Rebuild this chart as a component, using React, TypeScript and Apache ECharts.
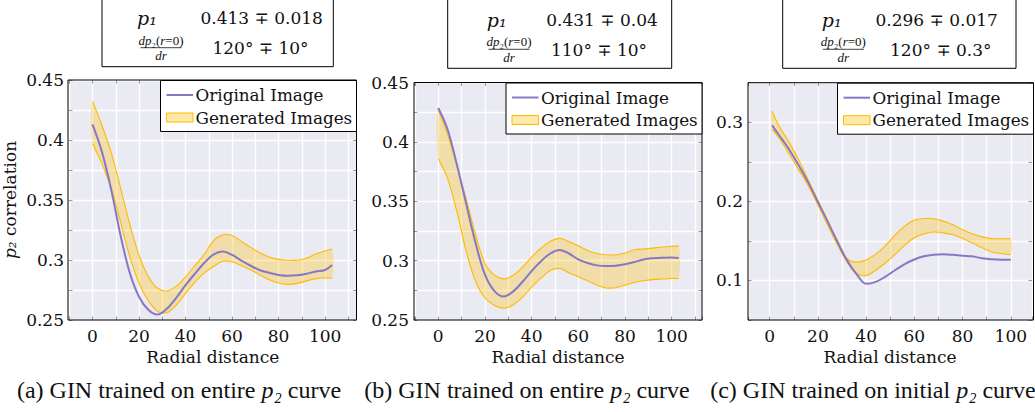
import React, { useEffect, useRef } from "react";
import * as echarts from "echarts";

// ---------------- data ----------------
const radiusA = [0, 4, 8, 12, 16, 20, 24, 28, 32, 36, 40, 44, 48, 52, 56, 60, 64, 68, 72, 76, 80, 84, 88, 92, 96, 100, 103];
const originalA = [0.413, 0.3905, 0.359, 0.321, 0.2895, 0.2694, 0.2585, 0.2545, 0.2595, 0.2685, 0.279, 0.2885, 0.2975, 0.3045, 0.307, 0.3042, 0.2995, 0.2952, 0.2915, 0.2893, 0.2875, 0.2868, 0.2872, 0.2885, 0.2905, 0.2917, 0.2958];
const upperA = [0.432, 0.4125, 0.3897, 0.3605, 0.33, 0.304, 0.2863, 0.2765, 0.2742, 0.278, 0.286, 0.2953, 0.3046, 0.316, 0.321, 0.3205, 0.3155, 0.3105, 0.306, 0.3025, 0.3005, 0.2998, 0.2998, 0.3015, 0.305, 0.3075, 0.309];
const lowerA = [0.397, 0.3805, 0.36, 0.332, 0.303, 0.2806, 0.2661, 0.2572, 0.2562, 0.2625, 0.2722, 0.2813, 0.289, 0.2946, 0.299, 0.2985, 0.2953, 0.2918, 0.2875, 0.2835, 0.2808, 0.2797, 0.2805, 0.2826, 0.2845, 0.285, 0.285];

const radiusB = [0, 4, 8, 12, 16, 20, 24, 28, 32, 36, 40, 44, 48, 52, 56, 60, 64, 68, 72, 76, 80, 84, 88, 92, 96, 100, 103];
const originalB = [0.4285, 0.4104, 0.3807, 0.3474, 0.3146, 0.2882, 0.2746, 0.2698, 0.2739, 0.282, 0.2912, 0.2995, 0.306, 0.309, 0.306, 0.301, 0.298, 0.296, 0.2955, 0.2957, 0.297, 0.2988, 0.301, 0.302, 0.3025, 0.3027, 0.3022];
const upperB = [0.4275, 0.4062, 0.3796, 0.3518, 0.3218, 0.2976, 0.288, 0.2846, 0.2875, 0.2942, 0.303, 0.3104, 0.3163, 0.3187, 0.316, 0.3125, 0.3085, 0.306, 0.305, 0.3048, 0.3065, 0.3092, 0.3098, 0.3105, 0.3115, 0.312, 0.3122];
const lowerB = [0.386, 0.369, 0.341, 0.3074, 0.2824, 0.2685, 0.2624, 0.2599, 0.2626, 0.269, 0.2777, 0.2852, 0.2917, 0.2934, 0.2897, 0.2865, 0.283, 0.2794, 0.277, 0.2772, 0.2793, 0.2816, 0.2831, 0.284, 0.2845, 0.2849, 0.285];

const radiusC = [1, 4, 8, 12, 16, 20, 24, 28, 32, 36, 40, 44, 48, 52, 56, 60, 64, 68, 72, 76, 80, 84, 88, 92, 96, 100];
const originalC = [0.296, 0.2832, 0.2657, 0.2457, 0.2237, 0.1992, 0.1747, 0.1493, 0.1257, 0.108, 0.0958, 0.0982, 0.1048, 0.1129, 0.1207, 0.1265, 0.1305, 0.1325, 0.1331, 0.1324, 0.1313, 0.1305, 0.128, 0.1267, 0.1262, 0.1262];
const upperC = [0.314, 0.2945, 0.2749, 0.2525, 0.227, 0.201, 0.176, 0.151, 0.128, 0.1232, 0.1259, 0.1333, 0.144, 0.1575, 0.1686, 0.1763, 0.1784, 0.178, 0.175, 0.1703, 0.1642, 0.159, 0.1551, 0.1529, 0.1527, 0.1527];
const lowerC = [0.291, 0.2795, 0.2601, 0.2401, 0.2196, 0.1955, 0.17, 0.1455, 0.1236, 0.1087, 0.1063, 0.113, 0.122, 0.1329, 0.1446, 0.1539, 0.1589, 0.1612, 0.1602, 0.1577, 0.1531, 0.1475, 0.1415, 0.136, 0.134, 0.1325];

const xTickLabels = [0, 20, 40, 60, 80, 100];
const yTickLabelsAB = [0.25, 0.3, 0.35, 0.4, 0.45];
const yTickLabelsC = [0.1, 0.2, 0.3];

const legendLabels = ["Original Image", "Generated Images"];
const xAxisTitle = "Radial distance";
const yAxisTitle = "{i|p₂} correlation";
const p1Values = ["0.413 ∓ 0.018", "0.431 ∓ 0.04", "0.296 ∓ 0.017"];
const slopeValues = ["120° ∓ 10°", "110° ∓ 10°", "120° ∓ 0.3°"];
const captions = [
  "(a) GIN trained on entire {i|p₂} curve",
  "(b) GIN trained on entire {i|p₂} curve",
  "(c) GIN trained on initial {i|p₂} curve",
];

// ---------------- style / layout ----------------
const PURPLE = "#8678c6";
const ORANGE = "#ffba00";
const BAND = "rgba(255, 200, 40, 0.36)";
const BAND_LEGEND = "rgba(255, 200, 40, 0.4)";
const PLOT_BG = "#eaeaf2";
const TEXT = "#111111";
const TICK = "#9a9a9a";
const SERIF = "'DejaVu Serif', serif";
const TIMES = "'Liberation Serif', 'Times New Roman', serif";
const SMOOTH = 0.35;

const layout = [
  { left: 68, top: 80, right: 356.5, bottom: 320, xMin: -10.1, xMax: 113.5, yMin: 0.25, yMax: 0.45, yStep: 0.025 },
  { left: 414, top: 82.5, right: 702, bottom: 320, xMin: -10.4, xMax: 113, yMin: 0.25, yMax: 0.45, yStep: 0.025 },
  { left: 748, top: 82.7, right: 1033.5, bottom: 320, xMin: -9, xMax: 108.8, yMin: 0.05, yMax: 0.35, yStep: 0.05 },
];

const tableLayout = [
  { x: 102, w: 231.3, h: 68.7, pX: 147, vX: 261.7, fX: 161, v2X: 260.5, r1: 18.3, num: 40, bar: 47.7, den: 55.6, r2: 48.3 },
  { x: 447.7, w: 224, h: 70.3, pX: 496.7, vX: 602, fX: 509, v2X: 599, r1: 20, num: 41.7, bar: 49.3, den: 57.3, r2: 50 },
  { x: 782.7, w: 233.3, h: 70.3, pX: 831.7, vX: 936.7, fX: 843.3, v2X: 940.8, r1: 20, num: 41.7, bar: 49.3, den: 57.3, r2: 50 },
];

const captionCenters = [179, 527, 873];

const panels = [
  { radius: radiusA, original: originalA, upper: upperA, lower: lowerA, yTicks: yTickLabelsAB },
  { radius: radiusB, original: originalB, upper: upperB, lower: lowerB, yTicks: yTickLabelsAB },
  { radius: radiusC, original: originalC, upper: upperC, lower: lowerC, yTicks: yTickLabelsC },
];

const pickLabel = (list: number[]) => (v: number) => {
  const hit = list.find((t) => Math.abs(t - v) < 1e-6);
  return hit === undefined ? "" : String(hit);
};

function buildOption(): any {
  const grid = layout.map((l) => ({
    left: l.left,
    top: l.top,
    width: l.right - l.left,
    height: l.bottom - l.top,
    show: false,
    containLabel: false,
  }));

  const tickStyle = { show: true, inside: true, length: 3.5, lineStyle: { color: TICK, width: 1 } };
  const gridLine = { show: true, lineStyle: { color: "#ffffff", width: 1.3, opacity: 1 } };
  const hiddenLine = { show: false, onZero: false };

  const xAxisBottom = layout.map((l, i) => ({
    type: "value",
    gridIndex: i,
    position: "bottom",
    min: l.xMin,
    max: l.xMax,
    splitNumber: 12,
    minInterval: 10,
    maxInterval: 10,
    axisLine: hiddenLine,
    axisTick: tickStyle,
    axisLabel: {
      margin: 7,
      fontFamily: SERIF,
      fontSize: 17,
      color: TEXT,
      formatter: pickLabel(xTickLabels),
    },
    splitLine: gridLine,
    name: xAxisTitle,
    nameLocation: "middle",
    nameGap: 27,
    nameTextStyle: { fontFamily: SERIF, fontSize: 17, color: TEXT },
  }));

  const xAxisTop = layout.map((l, i) => ({
    type: "value",
    gridIndex: i,
    position: "top",
    min: l.xMin,
    max: l.xMax,
    splitNumber: 12,
    minInterval: 10,
    maxInterval: 10,
    axisLine: hiddenLine,
    axisTick: tickStyle,
    axisLabel: { show: false },
    splitLine: { show: false },
  }));

  const yAxisLeft = layout.map((l, i) => ({
    type: "value",
    gridIndex: i,
    position: "left",
    min: l.yMin,
    max: l.yMax,
    interval: l.yStep,
    axisLine: hiddenLine,
    axisTick: tickStyle,
    axisLabel: {
      margin: 5,
      fontFamily: SERIF,
      fontSize: 17,
      color: TEXT,
      formatter: pickLabel(panels[i].yTicks),
    },
    splitLine: gridLine,
    ...(i === 0
      ? {
          name: yAxisTitle,
          nameLocation: "middle",
          nameGap: 51,
          nameTextStyle: {
            fontFamily: SERIF,
            fontSize: 17,
            color: TEXT,
            rich: { i: { fontFamily: SERIF, fontSize: 17, fontStyle: "italic", color: TEXT } },
          },
        }
      : {}),
  }));

  const yAxisRight = layout.map((l, i) => ({
    type: "value",
    gridIndex: i,
    position: "right",
    min: l.yMin,
    max: l.yMax,
    interval: l.yStep,
    axisLine: hiddenLine,
    axisTick: tickStyle,
    axisLabel: { show: false },
    splitLine: { show: false },
  }));

  const series: any[] = [];
  panels.forEach((p, i) => {
    series.push({
      type: "custom",
      name: legendLabels[1],
      xAxisIndex: i,
      yAxisIndex: i,
      silent: true,
      clip: false,
      z: 3,
      data: p.radius.map((x, k) => [x, p.lower[k], p.upper[k]]),
      encode: { x: 0, y: [1, 2] },
      renderItem: (params: any, api: any) => {
        if (params.dataIndex !== 0) return null;
        const up = p.radius.map((x, k) => api.coord([x, p.upper[k]]));
        const lo = p.radius.map((x, k) => api.coord([x, p.lower[k]]));
        return {
          type: "group",
          children: [
            {
              type: "polygon",
              shape: { points: up.concat(lo.slice().reverse()), smooth: SMOOTH },
              style: { fill: BAND, stroke: null },
            },
            {
              type: "polyline",
              shape: { points: up, smooth: SMOOTH },
              style: { fill: null, stroke: ORANGE, lineWidth: 1.1 },
            },
            {
              type: "polyline",
              shape: { points: lo, smooth: SMOOTH },
              style: { fill: null, stroke: ORANGE, lineWidth: 1.1 },
            },
          ],
        };
      },
    });
    series.push({
      type: "line",
      name: legendLabels[0],
      xAxisIndex: i,
      yAxisIndex: i,
      data: p.radius.map((x, k) => [x, p.original[k]]),
      smooth: SMOOTH,
      symbol: "none",
      silent: true,
      z: 5,
      lineStyle: { color: PURPLE, width: 2 },
    });
  });

  const graphic: any[] = [];
  layout.forEach((l, i) => {
    // plot background (below grid lines and series)
    graphic.push({
      type: "rect",
      z: -5,
      silent: true,
      shape: { x: l.left, y: l.top, width: l.right - l.left, height: l.bottom - l.top },
      style: { fill: PLOT_BG, stroke: null },
    });
    // axis frame
    graphic.push({
      type: "rect",
      z: 50,
      silent: true,
      shape: { x: l.left, y: l.top, width: l.right - l.left, height: l.bottom - l.top },
      style: { fill: "transparent", stroke: "#000", lineWidth: 1 },
    });
    // legend
    const bw = 196;
    const bx = l.right - bw;
    const by = l.top + 0.5;
    graphic.push({
      type: "rect",
      z: 60,
      silent: true,
      shape: { x: bx, y: by, width: bw, height: 51 },
      style: { fill: "#ffffff", stroke: "#000", lineWidth: 1 },
    });
    graphic.push({
      type: "line",
      z: 61,
      silent: true,
      shape: { x1: bx + 6, y1: by + 14.5, x2: bx + 32.5, y2: by + 14.5 },
      style: { stroke: PURPLE, lineWidth: 2 },
    });
    graphic.push({
      type: "rect",
      z: 61,
      silent: true,
      shape: { x: bx + 6, y: by + 32.5, width: 26.5, height: 9 },
      style: { fill: BAND_LEGEND, stroke: ORANGE, lineWidth: 1 },
    });
    [0, 1].forEach((k) => {
      graphic.push({
        type: "text",
        z: 61,
        silent: true,
        x: bx + 35,
        y: by + (k === 0 ? 14.5 : 37),
        style: {
          text: legendLabels[k],
          fontFamily: SERIF,
          fontSize: 16.8,
          fill: TEXT,
          align: "left",
          verticalAlign: "middle",
        },
      });
    });

    // parameter table
    const t = tableLayout[i];
    graphic.push({
      type: "rect",
      z: 60,
      silent: true,
      shape: { x: t.x, y: -2, width: t.w, height: t.h },
      style: { fill: "#ffffff", stroke: "#000", lineWidth: 1 },
    });
    graphic.push({
      type: "text",
      z: 61,
      silent: true,
      x: t.pX,
      y: t.r1,
      style: { text: "p₁", fontFamily: SERIF, fontStyle: "italic", fontSize: 19, fill: TEXT, align: "center", verticalAlign: "middle" },
    });
    graphic.push({
      type: "text",
      z: 61,
      silent: true,
      x: t.vX,
      y: t.r1,
      style: { text: p1Values[i], fontFamily: SERIF, fontSize: 17, fill: TEXT, align: "center", verticalAlign: "middle" },
    });
    graphic.push({
      type: "text",
      z: 61,
      silent: true,
      x: t.fX,
      y: t.num,
      style: {
        text: "{i|dp}{n|₂(}{i|r}{n|=0)}",
        fontFamily: TIMES,
        fontSize: 13,
        fill: TEXT,
        align: "center",
        verticalAlign: "middle",
        rich: {
          i: { fontFamily: TIMES, fontSize: 13, fontStyle: "italic", fill: TEXT },
          n: { fontFamily: TIMES, fontSize: 13, fill: TEXT },
        },
      },
    });
    graphic.push({
      type: "line",
      z: 61,
      silent: true,
      shape: { x1: t.fX - 20.5, y1: t.bar, x2: t.fX + 20.5, y2: t.bar },
      style: { stroke: TEXT, lineWidth: 0.8 },
    });
    graphic.push({
      type: "text",
      z: 61,
      silent: true,
      x: t.fX,
      y: t.den,
      style: { text: "dr", fontFamily: TIMES, fontStyle: "italic", fontSize: 13, fill: TEXT, align: "center", verticalAlign: "middle" },
    });
    graphic.push({
      type: "text",
      z: 61,
      silent: true,
      x: t.v2X,
      y: t.r2,
      style: { text: slopeValues[i], fontFamily: SERIF, fontSize: 17, fill: TEXT, align: "center", verticalAlign: "middle" },
    });

    // caption
    graphic.push({
      type: "text",
      z: 61,
      silent: true,
      x: captionCenters[i],
      y: 390,
      style: {
        text: captions[i],
        fontFamily: TIMES,
        fontSize: 24,
        fill: TEXT,
        align: "center",
        verticalAlign: "middle",
        rich: { i: { fontFamily: TIMES, fontSize: 24, fontStyle: "italic", fill: TEXT } },
      },
    });
  });

  return {
    animation: false,
    backgroundColor: "#ffffff",
    grid,
    xAxis: [...xAxisBottom, ...xAxisTop],
    yAxis: [...yAxisLeft, ...yAxisRight],
    series,
    graphic,
  };
}

export default function App() {
  const ref = useRef<HTMLDivElement>(null);
  useEffect(() => {
    if (!ref.current) return;
    const chart = echarts.init(ref.current, null, { renderer: "svg" });
    chart.setOption(buildOption());
    return () => {
      chart.dispose();
    };
  }, []);
  return (
    <div
      ref={ref}
      style={{ position: "fixed", left: 0, top: 0, width: 1035, height: 412, background: "#ffffff" }}
    />
  );
}
